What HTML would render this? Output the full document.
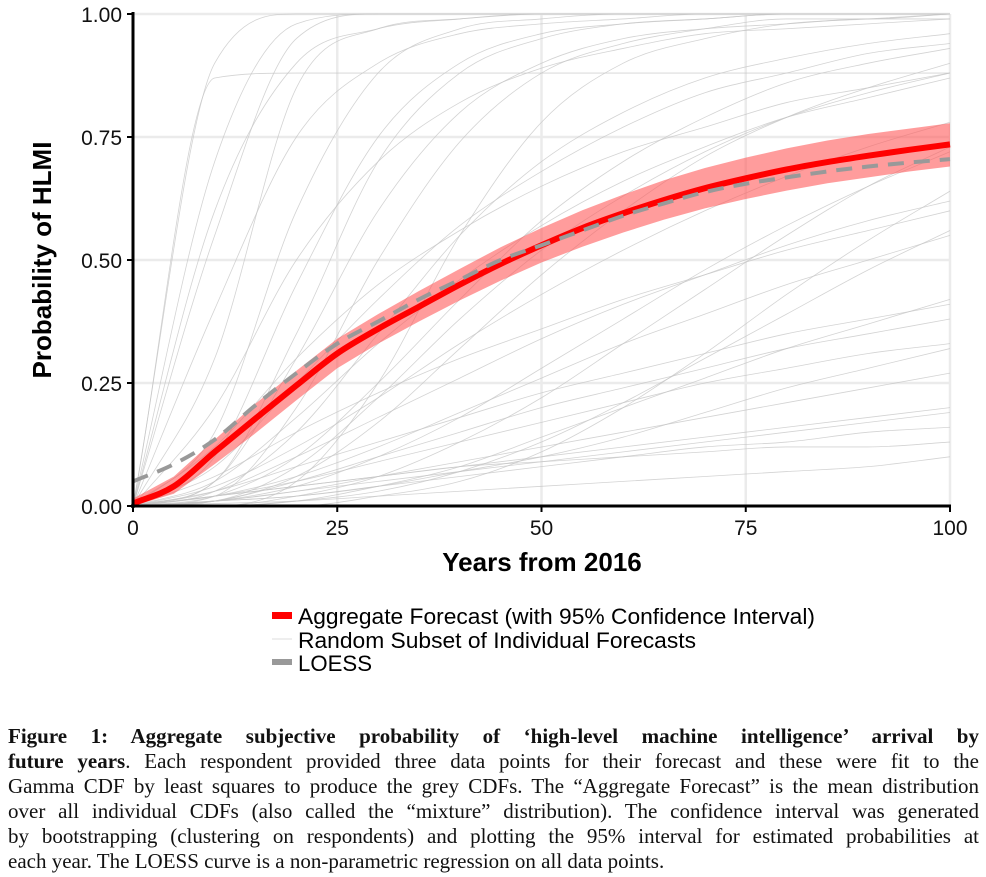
<!DOCTYPE html>
<html><head><meta charset="utf-8">
<style>
body{margin:0;background:#fff;width:986px;height:877px;overflow:hidden;position:relative;font-family:"Liberation Sans",sans-serif}
#cap{position:absolute;left:8px;top:724px;width:971px;font-family:"Liberation Serif",serif;font-size:21px;line-height:25px;color:#111}
#cap div{text-align:justify;text-align-last:justify;white-space:nowrap}
#cap div.last{text-align-last:left}
</style></head><body>
<svg id="chart" width="986" height="700" style="position:absolute;left:0;top:0">
<g id="grid"></g><g id="greys"></g><g id="agg"></g><g id="axes"></g>
<g font-size="22" fill="#000">
<rect x="272" y="612" width="20" height="7" fill="#ff0000"/>
<text x="298" y="624" textLength="517" lengthAdjust="spacingAndGlyphs">Aggregate Forecast (with 95% Confidence Interval)</text>
<line x1="272" y1="639" x2="292" y2="639" stroke="#ddd" stroke-width="1"/>
<text x="298" y="648" textLength="398" lengthAdjust="spacingAndGlyphs">Random Subset of Individual Forecasts</text>
<rect x="272" y="659" width="20" height="6" fill="#999"/>
<text x="298" y="671" textLength="74" lengthAdjust="spacingAndGlyphs">LOESS</text>
</g>
</svg>
<div id="cap">
<div><b>Figure 1: Aggregate subjective probability of ‘high-level machine intelligence’ arrival by</b></div>
<div><b>future years</b>. Each respondent provided three data points for their forecast and these were fit to the</div>
<div>Gamma CDF by least squares to produce the grey CDFs. The “Aggregate Forecast” is the mean distribution</div>
<div>over all individual CDFs (also called the “mixture” distribution). The confidence interval was generated</div>
<div>by bootstrapping (clustering on respondents) and plotting the 95% interval for estimated probabilities at</div>
<div class="last">each year. The LOESS curve is a non-parametric regression on all data points.</div>
</div>
<script>
const years=[0,5,10,15,20,25,30,35,40,45,50,55,60,65,70,75,80,85,90,95,100];
const aggregate=[0.005,0.04,0.11,0.178,0.245,0.31,0.36,0.405,0.45,0.492,0.53,0.565,0.595,0.622,0.646,0.666,0.684,0.699,0.712,0.724,0.735];
const ciLow=[0.0,0.025,0.085,0.148,0.215,0.28,0.33,0.375,0.418,0.458,0.495,0.527,0.556,0.582,0.605,0.624,0.641,0.656,0.668,0.68,0.69];
const ciHigh=[0.015,0.06,0.135,0.208,0.275,0.34,0.39,0.437,0.482,0.526,0.565,0.601,0.633,0.662,0.687,0.708,0.727,0.743,0.756,0.767,0.778];
const loess=[0.05,0.085,0.135,0.205,0.27,0.33,0.375,0.42,0.46,0.5,0.53,0.56,0.59,0.615,0.638,0.655,0.668,0.68,0.69,0.698,0.705];
const greyYears=[0,10,20,30,40,50,60,70,80,90,100];
const greyCurves=[
[0,0.9,1,1,1,1,1,1,1,1,1],[0,0.7,0.98,1,1,1,1,1,1,1,1],[0,0.55,0.95,1,1,1,1,1,1,1,1],
[0,0.87,0.88,0.88,0.88,0.88,0.88,0.88,0.88,0.88,0.88],[0,0.3,0.85,0.97,0.99,1,1,1,1,1,1],
[0,0.15,0.6,0.88,0.97,0.99,1,1,1,1,1],[0,0.1,0.45,0.75,0.9,0.96,0.98,0.99,1,1,1],
[0,0.2,0.5,0.7,0.82,0.89,0.93,0.96,0.97,0.98,0.99],[0,0.05,0.3,0.6,0.8,0.9,0.95,0.97,0.98,0.99,0.99],
[0,0.03,0.15,0.35,0.55,0.7,0.8,0.87,0.91,0.94,0.96],[0,0.08,0.25,0.42,0.57,0.68,0.77,0.84,0.88,0.92,0.94],
[0,0.02,0.1,0.25,0.42,0.58,0.7,0.79,0.86,0.9,0.93],[0,0.01,0.06,0.17,0.32,0.47,0.6,0.71,0.79,0.85,0.9],
[0,0.12,0.3,0.45,0.56,0.65,0.72,0.77,0.82,0.85,0.88],[0,0.04,0.12,0.22,0.33,0.43,0.52,0.6,0.67,0.73,0.78],
[0,0.01,0.04,0.1,0.18,0.28,0.38,0.48,0.57,0.65,0.72],[0,0.0,0.02,0.06,0.13,0.22,0.33,0.44,0.55,0.65,0.73],
[0,0.06,0.15,0.23,0.3,0.36,0.42,0.47,0.52,0.56,0.6],[0,0.02,0.06,0.12,0.19,0.26,0.33,0.39,0.45,0.5,0.55],
[0,0.03,0.08,0.13,0.18,0.23,0.27,0.31,0.35,0.38,0.41],[0,0.01,0.05,0.1,0.15,0.2,0.24,0.28,0.32,0.35,0.38],
[0,0.02,0.05,0.09,0.13,0.17,0.21,0.25,0.28,0.31,0.33],[0,0.01,0.03,0.06,0.09,0.12,0.15,0.18,0.21,0.24,0.27],
[0,0.02,0.04,0.06,0.08,0.1,0.12,0.14,0.16,0.18,0.2],[0,0.01,0.02,0.04,0.06,0.08,0.1,0.12,0.13,0.15,0.16],
[0,0.005,0.01,0.02,0.03,0.04,0.05,0.06,0.07,0.08,0.1],[0,0.02,0.04,0.06,0.08,0.09,0.1,0.11,0.12,0.12,0.13],
[0,0.01,0.03,0.05,0.07,0.09,0.11,0.13,0.15,0.17,0.19],[0,0.0,0.01,0.03,0.07,0.13,0.21,0.3,0.39,0.48,0.56],
[0,0.0,0.0,0.02,0.05,0.11,0.2,0.31,0.43,0.54,0.64],[0,0.05,0.35,0.7,0.88,0.95,0.98,0.99,1,1,1],
[0,0.4,0.75,0.9,0.96,0.98,0.99,1,1,1,1],[0,0.02,0.2,0.5,0.74,0.88,0.94,0.97,0.99,0.99,1],
[0,0.0,0.05,0.25,0.55,0.78,0.9,0.95,0.98,0.99,1],[0,0.01,0.08,0.22,0.38,0.52,0.63,0.72,0.79,0.84,0.88],
[0,0.05,0.18,0.33,0.46,0.57,0.66,0.73,0.79,0.83,0.87],[0,0.0,0.01,0.04,0.08,0.14,0.2,0.26,0.32,0.37,0.42],
[0,0.03,0.1,0.18,0.26,0.34,0.41,0.47,0.53,0.58,0.62],[0,0.01,0.02,0.04,0.07,0.1,0.14,0.19,0.24,0.28,0.32],
[0,0.6,0.9,0.97,0.99,1,1,1,1,1,1]
];
const xTicks=[0,25,50,75,100];
const yTicks=[0,0.25,0.5,0.75,1];
const yTickLabels=["0.00","0.25","0.50","0.75","1.00"];
const X=v=>133+v*(950-133)/100;
const Y=v=>506-v*(506-14);
const NS="http://www.w3.org/2000/svg";
function mk(tag,attrs,parent){const e=document.createElementNS(NS,tag);for(const k in attrs)e.setAttribute(k,attrs[k]);parent.appendChild(e);return e;}
function pathD(xs,ys){
  const p=xs.map((x,i)=>[X(x),Y(ys[i])]);const n=p.length;
  const d=[],m=[];
  for(let i=0;i<n-1;i++)d.push((p[i+1][1]-p[i][1])/(p[i+1][0]-p[i][0]));
  m[0]=d[0];m[n-1]=d[n-2];
  for(let i=1;i<n-1;i++){m[i]=(d[i-1]*d[i]<=0)?0:(d[i-1]+d[i])/2;}
  for(let i=0;i<n-1;i++){if(d[i]===0){m[i]=0;m[i+1]=0;continue;}
    const a=m[i]/d[i],b=m[i+1]/d[i],s=a*a+b*b;if(s>9){const t=3/Math.sqrt(s);m[i]=t*a*d[i];m[i+1]=t*b*d[i];}}
  let s="M"+p[0][0]+","+p[0][1];
  for(let i=0;i<n-1;i++){const h=(p[i+1][0]-p[i][0])/3;
    s+=" C"+(p[i][0]+h)+","+(p[i][1]+m[i]*h)+" "+(p[i+1][0]-h)+","+(p[i+1][1]-m[i+1]*h)+" "+p[i+1][0]+","+p[i+1][1];}
  return s;}
const grid=document.getElementById('grid');
xTicks.slice(1).forEach(t=>{const l=mk('line',{x1:X(t),x2:X(t),y1:14,y2:506,stroke:'#ebebeb','stroke-width':2.5},grid);

});
yTicks.slice(1).forEach(t=>{const l=mk('line',{x1:133,x2:950,y1:Y(t),y2:Y(t),stroke:'#ebebeb','stroke-width':2.5},grid);

});
const greys=document.getElementById('greys');
greyCurves.forEach(c=>{const p=mk('path',{d:pathD(greyYears,c),fill:'none',stroke:'#c4c4c4','stroke-width':0.8,opacity:0.75},greys);

});
const agg=document.getElementById('agg');
const up=years.map((x,i)=>[X(x),Y(ciHigh[i])]);const lo=years.map((x,i)=>[X(x),Y(ciLow[i])]).reverse();
const band=mk('path',{d:"M"+up.concat(lo).map(p=>p.join(",")).join(" L")+"Z",fill:'#ff5a5a',opacity:0.6},agg);


const al=mk('path',{d:pathD(years,aggregate),fill:'none',stroke:'#ff0000','stroke-width':6},agg);


const ll=mk('path',{d:pathD(years,loess),fill:'none',stroke:'#999','stroke-width':4,'stroke-dasharray':'16,10'},agg);


const axes=document.getElementById('axes');
const ya=mk('line',{x1:133,x2:133,y1:12,y2:508,stroke:'#000','stroke-width':3},axes);


const xa=mk('line',{x1:131,x2:951,y1:506,y2:506,stroke:'#000','stroke-width':3},axes);


xTicks.forEach(t=>{mk('line',{x1:X(t),x2:X(t),y1:506,y2:512,stroke:'#000','stroke-width':2},axes);
const tx=mk('text',{x:X(t),y:535,'text-anchor':'middle','font-size':21,fill:'#111'},axes);tx.textContent=t;

});
yTicks.forEach((t,i)=>{mk('line',{x1:127,x2:133,y1:Y(t),y2:Y(t),stroke:'#000','stroke-width':2},axes);
const tx=mk('text',{x:122,y:Y(t)+8,'text-anchor':'end','font-size':21,fill:'#111'},axes);tx.textContent=yTickLabels[i];

});
const xt=mk('text',{x:542,y:571,'text-anchor':'middle','font-size':26,'font-weight':'bold'},axes);xt.textContent="Years from 2016";


const yt=mk('text',{x:0,y:0,transform:'translate(51,260) rotate(-90)','text-anchor':'middle','font-size':26,'font-weight':'bold'},axes);yt.textContent="Probability of HLMI";


</script>
</body></html>
